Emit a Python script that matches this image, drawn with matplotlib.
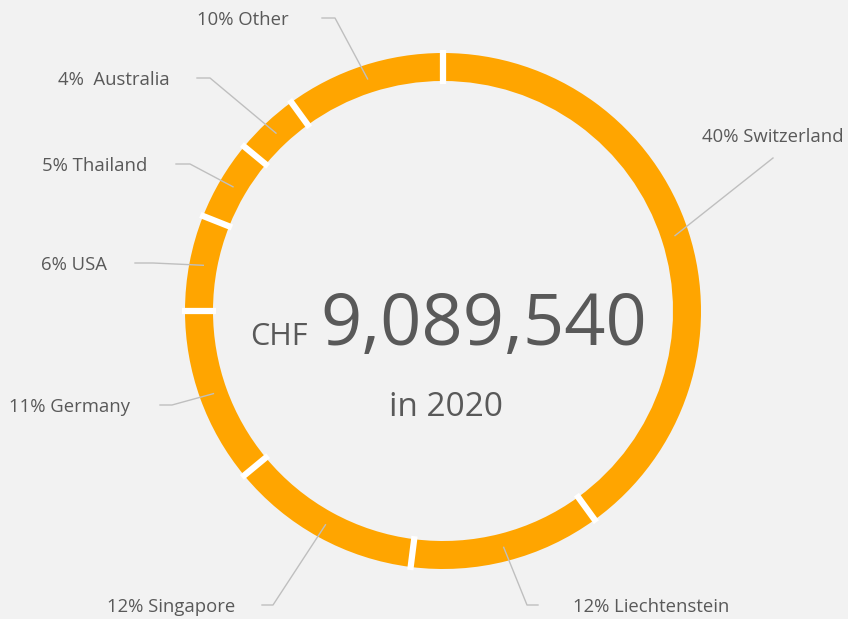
import numpy as np
import matplotlib.pyplot as plt

countries = ["Switzerland", "Liechtenstein", "Singapore", "Germany",
             "USA", "Thailand", "Australia", "Other"]
shares = [40, 12, 12, 11, 6, 5, 4, 10]
label_texts = ["40% Switzerland", "12% Liechtenstein", "12% Singapore",
               "11% Germany", "6% USA", "5% Thailand", "4%  Australia",
               "10% Other"]
total_text = "9,089,540"
currency = "CHF"
year_text = "in 2020"

W, H = 848, 619
CX, CY = 443, H - 311
R_OUT, RING = 258, 28
BG = "#F2F2F2"
TXT = "#595959"
LINE = "#BFBFBF"

# label layout: (text x, text y, ha, elbow x, line end x) in image pixels (y down)
layout = [
    (702, 135, "left", 773, None),
    (573, 605, "left", 527, 538),
    (235, 605, "right", 273, 262),
    (130, 405, "right", 172, 160),
    (107, 263, "right", 153, 135),
    (147, 164, "right", 190, 176),
    (170, 78, "right", 210, 197),
    (289, 18, "right", 335, 322),
]


def main() -> None:
    plt.rcParams["font.family"] = ["Open Sans", "DejaVu Sans"]
    fig = plt.figure(figsize=(W / 100, H / 100), dpi=100, facecolor=BG)
    ax = fig.add_axes([0, 0, 1, 1])
    ax.set_facecolor(BG)

    ax.pie(shares, center=(CX, CY), radius=R_OUT, startangle=90,
           counterclock=False, colors=["#FFA500"] * len(shares),
           wedgeprops=dict(width=RING, linewidth=0), frame=True)
    ax.set_xlim(0, W)
    ax.set_ylim(0, H)
    ax.set_aspect("equal")
    ax.axis("off")

    # white gaps between segments
    bounds = np.cumsum([0] + shares[:-1]) / 100
    for b in bounds:
        ang = np.deg2rad(90 - 360 * b)
        r0, r1 = R_OUT - RING - 3, R_OUT + 3
        ax.plot([CX + r0 * np.cos(ang), CX + r1 * np.cos(ang)],
                [CY + r0 * np.sin(ang), CY + r1 * np.sin(ang)],
                color="white", lw=4.5, solid_capstyle="butt")

    cum = np.cumsum(shares) - np.array(shares) / 2
    r_mid = R_OUT - RING / 2
    for frac, text, (tx, ty, ha, ex, lx) in zip(cum / 100, label_texts, layout):
        ang = np.deg2rad(90 - 360 * frac)
        ax_x = CX + r_mid * np.cos(ang)
        ax_y = CY + r_mid * np.sin(ang)
        if lx is None:
            xs = [ax_x, ex]
            ys = [ax_y, H - ty - 23]
        else:
            xs = [ax_x, ex, lx]
            ys = [ax_y, H - ty, H - ty]
        ax.plot(xs, ys, color=LINE, lw=1)
        ax.text(tx, H - ty - 2, text, ha=ha, va="center", fontsize=13.3,
                color=TXT)

    ax.text(320, H - 345, total_text, ha="left", va="baseline",
            fontsize=52, color=TXT)
    ax.text(250, H - 345, currency, ha="left", va="baseline",
            fontsize=22, color=TXT)
    ax.text(446, H - 416, year_text, ha="center", va="baseline",
            fontsize=24, color=TXT)

    fig.savefig("out.png", dpi=100, facecolor=BG)


if __name__ == "__main__":
    main()
